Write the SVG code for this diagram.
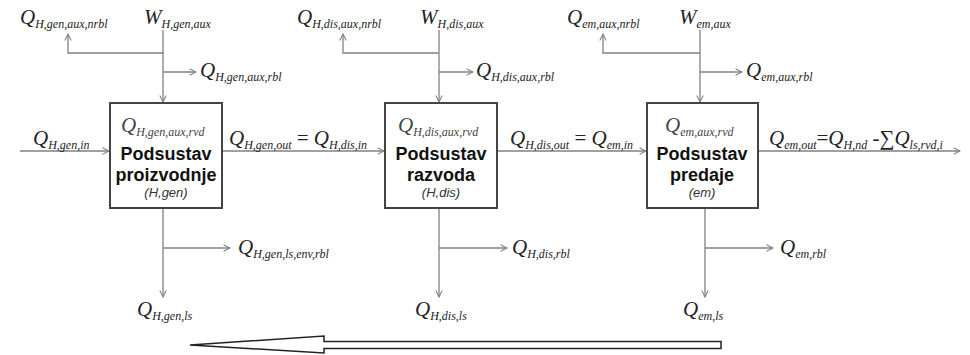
<svg xmlns="http://www.w3.org/2000/svg" width="970" height="355" viewBox="0 0 970 355">
<style>
.bg{fill:#fff}
.box{fill:#fff;stroke:#444;stroke-width:2}
.ln{fill:none;stroke:#808080;stroke-width:1.3}
.t{font-family:"Liberation Serif",serif;font-style:italic;fill:#222}
.bx{fill:#444}
.m{font-size:21px}
.s{font-size:12px}
.n{font-style:normal}
.hb{font-family:"Liberation Sans",Arial,sans-serif;font-weight:bold;font-size:18px;fill:#111;text-anchor:middle}
.hi{font-family:"Liberation Sans",Arial,sans-serif;font-style:italic;font-size:13px;fill:#333;text-anchor:middle}
.big{fill:#fff;stroke:#222;stroke-width:1.5}
</style>
<defs>
<marker id="ah" viewBox="0 0 10 10" refX="9" refY="5" markerWidth="8" markerHeight="8" markerUnits="userSpaceOnUse" orient="auto">
<path d="M1,1 L9,5 L1,9" fill="none" stroke="#808080" stroke-width="1.3"/>
</marker>
</defs>
<rect class="bg" x="0" y="0" width="970" height="355"/>

<g id="connectors">
<line class="ln" x1="163" y1="30" x2="163" y2="102" marker-end="url(#ah)"/>
<polyline class="ln" points="163,53 68,53 68,34" marker-end="url(#ah)"/>
<line class="ln" x1="163" y1="72" x2="196" y2="72" marker-end="url(#ah)"/>

<line class="ln" x1="439" y1="30" x2="439" y2="102" marker-end="url(#ah)"/>
<polyline class="ln" points="439,53 343,53 343,34" marker-end="url(#ah)"/>
<line class="ln" x1="439" y1="72" x2="473" y2="72" marker-end="url(#ah)"/>

<line class="ln" x1="700" y1="30" x2="700" y2="102" marker-end="url(#ah)"/>
<polyline class="ln" points="700,53 603,53 603,34" marker-end="url(#ah)"/>
<line class="ln" x1="700" y1="72" x2="742" y2="72" marker-end="url(#ah)"/>

<line class="ln" x1="20" y1="151" x2="109" y2="151" marker-end="url(#ah)"/>
<line class="ln" x1="222" y1="151" x2="384" y2="151" marker-end="url(#ah)"/>
<line class="ln" x1="497" y1="151" x2="646" y2="151" marker-end="url(#ah)"/>
<line class="ln" x1="758" y1="151" x2="960" y2="151" marker-end="url(#ah)"/>

<line class="ln" x1="163" y1="208" x2="163" y2="297" marker-end="url(#ah)"/>
<line class="ln" x1="163" y1="248" x2="230" y2="248" marker-end="url(#ah)"/>
<line class="ln" x1="439" y1="208" x2="439" y2="297" marker-end="url(#ah)"/>
<line class="ln" x1="439" y1="248" x2="507" y2="248" marker-end="url(#ah)"/>
<line class="ln" x1="705" y1="208" x2="705" y2="297" marker-end="url(#ah)"/>
<line class="ln" x1="705" y1="248" x2="773" y2="248" marker-end="url(#ah)"/>

<polygon class="big" points="190,345 324,336 324,341.5 721,341.5 721,348.5 324,348.5 324,353"/>
</g>

<g id="gen">
<rect class="box" x="110" y="103" width="112" height="105"/>
<text class="t bx" x="121" y="132"><tspan class="m">Q</tspan><tspan class="s" dy="4">H,gen,aux,rvd</tspan></text>
<text class="hb" x="166" y="160">Podsustav</text>
<text class="hb" x="166" y="181">proizvodnje</text>
<text class="hi" x="166" y="197">(H,gen)</text>
</g>

<g id="dis">
<rect class="box" x="385" y="103" width="112" height="105"/>
<text class="t bx" x="398" y="132"><tspan class="m">Q</tspan><tspan class="s" dy="4">H,dis,aux,rvd</tspan></text>
<text class="hb" x="441" y="160">Podsustav</text>
<text class="hb" x="441" y="181">razvoda</text>
<text class="hi" x="441" y="197">(H,dis)</text>
</g>

<g id="em">
<rect class="box" x="647" y="103" width="111" height="105"/>
<text class="t bx" x="665" y="132"><tspan class="m">Q</tspan><tspan class="s" dy="4">em,aux,rvd</tspan></text>
<text class="hb" x="702" y="160">Podsustav</text>
<text class="hb" x="702" y="181">predaje</text>
<text class="hi" x="702" y="197">(em)</text>
</g>

<g id="labels">
<text class="t" x="20" y="24"><tspan class="m">Q</tspan><tspan class="s" dy="4">H,gen,aux,nrbl</tspan></text>
<text class="t" x="144" y="24"><tspan class="m">W</tspan><tspan class="s" dy="4">H,gen,aux</tspan></text>
<text class="t" x="200" y="77"><tspan class="m">Q</tspan><tspan class="s" dy="4">H,gen,aux,rbl</tspan></text>

<text class="t" x="297" y="24"><tspan class="m">Q</tspan><tspan class="s" dy="4">H,dis,aux,nrbl</tspan></text>
<text class="t" x="420" y="24"><tspan class="m">W</tspan><tspan class="s" dy="4">H,dis,aux</tspan></text>
<text class="t" x="476" y="77"><tspan class="m">Q</tspan><tspan class="s" dy="4">H,dis,aux,rbl</tspan></text>

<text class="t" x="567" y="24"><tspan class="m">Q</tspan><tspan class="s" dy="4">em,aux,nrbl</tspan></text>
<text class="t" x="679" y="24"><tspan class="m">W</tspan><tspan class="s" dy="4">em,aux</tspan></text>
<text class="t" x="746" y="77"><tspan class="m">Q</tspan><tspan class="s" dy="4">em,aux,rbl</tspan></text>

<text class="t" x="33" y="145"><tspan class="m">Q</tspan><tspan class="s" dy="4">H,gen,in</tspan></text>
<text class="t" x="229" y="145"><tspan class="m">Q</tspan><tspan class="s" dy="4">H,gen,out</tspan><tspan class="m n" dy="-4"> = </tspan><tspan class="m">Q</tspan><tspan class="s" dy="4">H,dis,in</tspan></text>
<text class="t" x="510" y="145"><tspan class="m">Q</tspan><tspan class="s" dy="4">H,dis,out</tspan><tspan class="m n" dy="-4"> = </tspan><tspan class="m">Q</tspan><tspan class="s" dy="4">em,in</tspan></text>
<text class="t" x="769" y="145"><tspan class="m">Q</tspan><tspan class="s" dy="4">em,out</tspan><tspan class="m n" dy="-4">=</tspan><tspan class="m">Q</tspan><tspan class="s" dy="4">H,nd</tspan><tspan class="m n" dy="-4"> -∑</tspan><tspan class="m">Q</tspan><tspan class="s" dy="4">ls,rvd,i</tspan></text>

<text class="t" x="238" y="254"><tspan class="m">Q</tspan><tspan class="s" dy="4">H,gen,ls,env,rbl</tspan></text>
<text class="t" x="512" y="254"><tspan class="m">Q</tspan><tspan class="s" dy="4">H,dis,rbl</tspan></text>
<text class="t" x="780" y="254"><tspan class="m">Q</tspan><tspan class="s" dy="4">em,rbl</tspan></text>

<text class="t" x="137" y="316"><tspan class="m">Q</tspan><tspan class="s" dy="4">H,gen,ls</tspan></text>
<text class="t" x="415" y="316"><tspan class="m">Q</tspan><tspan class="s" dy="4">H,dis,ls</tspan></text>
<text class="t" x="683" y="316"><tspan class="m">Q</tspan><tspan class="s" dy="4">em,ls</tspan></text>
</g>
</svg>
